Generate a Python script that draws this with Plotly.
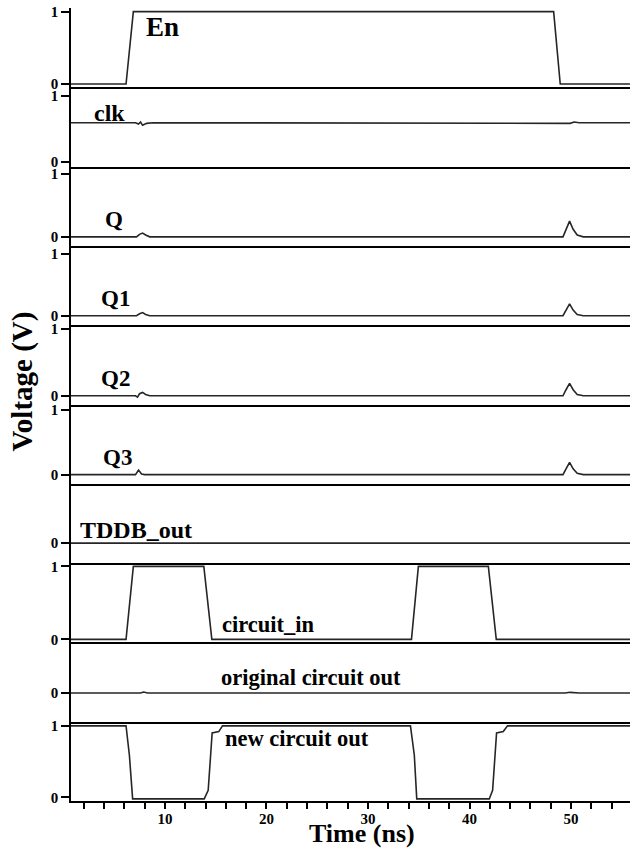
import plotly.graph_objects as go
from plotly.subplots import make_subplots

# ---------------- data ----------------
names = ["En", "clk", "Q", "Q1", "Q2", "Q3", "TDDB_out", "circuit_in",
         "original circuit out", "new circuit out"]

en_t = [0.75, 6.17, 6.89, 48.28, 48.93, 55.8]
en_v = [0, 0, 1, 1, 0, 0]

clk_t = [0.75, 7.1, 7.4, 7.6, 7.8, 8.2, 8.8, 49.5, 49.9, 50.3, 50.8, 55.8]
clk_v = [0.59, 0.59, 0.57, 0.60, 0.55, 0.58, 0.59, 0.59, 0.58, 0.60, 0.59, 0.59]

q_t = [0.75, 7.2, 7.5, 7.8, 8.1, 8.5, 49.2, 49.5, 49.85, 50.2, 50.6, 51.2, 55.8]
q_v = [0, 0, 0.04, 0.06, 0.03, 0, 0, 0.12, 0.25, 0.12, 0.03, 0, 0]

q1_t = [0.75, 7.2, 7.5, 7.8, 8.1, 8.5, 49.2, 49.5, 49.85, 50.2, 50.6, 51.2, 55.8]
q1_v = [0, 0, 0.03, 0.05, 0.02, 0, 0, 0.09, 0.19, 0.09, 0.02, 0, 0]

q2_t = [0.75, 7.1, 7.3, 7.5, 7.8, 8.1, 8.5, 49.2, 49.5, 49.85, 50.2, 50.6, 51.2, 55.8]
q2_v = [0, 0, -0.02, 0.03, 0.05, 0.02, 0, 0, 0.09, 0.185, 0.09, 0.02, 0, 0]

q3_t = [0.75, 7.1, 7.4, 7.7, 8.0, 49.2, 49.5, 49.85, 50.2, 50.6, 51.2, 55.8]
q3_v = [0, 0, 0.07, 0.01, 0, 0, 0.09, 0.19, 0.09, 0.02, 0, 0]

tddb_t = [0.75, 7.8, 8.1, 8.4, 55.8]
tddb_v = [0, 0, 0.01, 0, 0]

cin_t = [0.75, 6.17, 6.89, 13.83, 14.62, 34.28, 34.96, 41.85, 42.63, 55.8]
cin_v = [0, 0, 1, 1, 0, 0, 1, 1, 0, 0]

orig_t = [0.75, 7.6, 7.9, 8.3, 49.4, 49.9, 50.8, 55.8]
orig_v = [0, 0, 0.015, 0, 0, 0.01, 0, 0]

new_t = [0.75, 6.17, 6.5, 6.82, 13.87, 14.26, 14.65, 15.3, 15.67,
         34.18, 34.56, 34.8, 41.94, 42.27, 42.66, 43.32, 43.74, 55.8]
new_v = [1, 1, 0.59, -0.02, -0.02, 0.1, 0.9, 0.92, 1.0,
         1, 0.59, -0.02, -0.02, 0.1, 0.9, 0.92, 1.0, 1]

series_t = [en_t, clk_t, q_t, q1_t, q2_t, q3_t, tddb_t, cin_t, orig_t, new_t]
series_v = [en_v, clk_v, q_v, q1_v, q2_v, q3_v, tddb_v, cin_v, orig_v, new_v]

# per-panel y ranges and ticks
y_ranges = [(-0.045, 1.05), (-0.075, 1.126), (-0.144, 1.118), (-0.153, 1.123),
            (-0.131, 1.056), (-0.143, 1.088), (-0.31, 0.92), (-0.041, 1.045),
            (-0.44, 0.775), (-0.049, 1.058)]
y_ticks = [[0, 1], [0, 1], [0, 1], [0, 1], [0, 1], [0, 1], [0], [0, 1], [0], [0, 1]]

# label positions (time, value) and font sizes
label_x = [7.9, 2.8, 3.9, 3.5, 3.5, 3.7, 1.45, 15.45, 15.35, 15.7]
label_y = [0.79, 0.74, 0.28, 0.28, 0.26, 0.27, 0.20, 0.21, 0.23, 0.82]
label_size = [27, 24, 23, 23, 23, 23, 24, 22.5, 22.5, 22.5]

x_range = [0.75, 55.8]
x_tickvals = [10, 20, 30, 40, 50]
x_ticktext = ["10", "20", "30", "40", "50"]

FONT = "Liberation Serif"
N = len(names)

fig = make_subplots(rows=N, cols=1, shared_xaxes=True, vertical_spacing=0)

for i in range(N):
    fig.add_trace(go.Scatter(x=series_t[i], y=series_v[i], mode="lines",
                             line=dict(color="#262626", width=1.6),
                             showlegend=False, hoverinfo="skip"),
                  row=i + 1, col=1)
    fig.update_yaxes(range=list(y_ranges[i]), tickvals=y_ticks[i],
                     ticktext=[str(v) for v in y_ticks[i]],
                     showline=True, linecolor="black", linewidth=1.5,
                     ticks="outside", ticklen=8, tickwidth=1.5, tickcolor="black",
                     tickfont=dict(family=FONT, size=15, color="black", weight="bold"),
                     showgrid=False, zeroline=False, automargin=False,
                     row=i + 1, col=1)
    fig.update_xaxes(range=x_range, showline=True, linecolor="black", linewidth=1.5,
                     showgrid=False, zeroline=False, automargin=False,
                     row=i + 1, col=1)
    yref = "y" if i == 0 else f"y{i + 1}"
    xref = "x" if i == 0 else f"x{i + 1}"
    fig.add_annotation(x=label_x[i], y=label_y[i], xref=xref, yref=yref,
                       text=names[i], showarrow=False, xanchor="left", yanchor="middle",
                       font=dict(family=FONT, size=label_size[i], color="black",
                                 weight="bold"))

# bottom axis ticks
fig.update_xaxes(tickvals=x_tickvals, ticktext=x_ticktext, ticks="outside",
                 ticklen=6, tickwidth=1.5, tickcolor="black",
                 tickfont=dict(family=FONT, size=15, color="black", weight="bold"),
                 ticklabelstandoff=-3,
                 minor=dict(dtick=2, tick0=0, ticks="outside", ticklen=6,
                            tickwidth=1.5, tickcolor="black"),
                 showticklabels=True, row=N, col=1)

fig.add_annotation(x=0.52, y=-0.0416, xref="paper", yref="paper", text="Time (ns)",
                   showarrow=False, xanchor="center", yanchor="middle",
                   font=dict(family=FONT, size=26, color="black", weight="bold"))
fig.add_annotation(x=-0.086, y=0.529, xref="paper", yref="paper", text="Voltage (V)",
                   textangle=-90, showarrow=False, xanchor="center", yanchor="middle",
                   font=dict(family=FONT, size=29, color="black", weight="bold"))

fig.update_layout(width=631, height=849, plot_bgcolor="white", paper_bgcolor="white",
                  margin=dict(l=71, r=1, t=8, b=48), showlegend=False)

fig.write_html("out.html", config={"displayModeBar": False},
               post_script="document.body.style.margin='0';document.body.style.overflow='hidden';")
